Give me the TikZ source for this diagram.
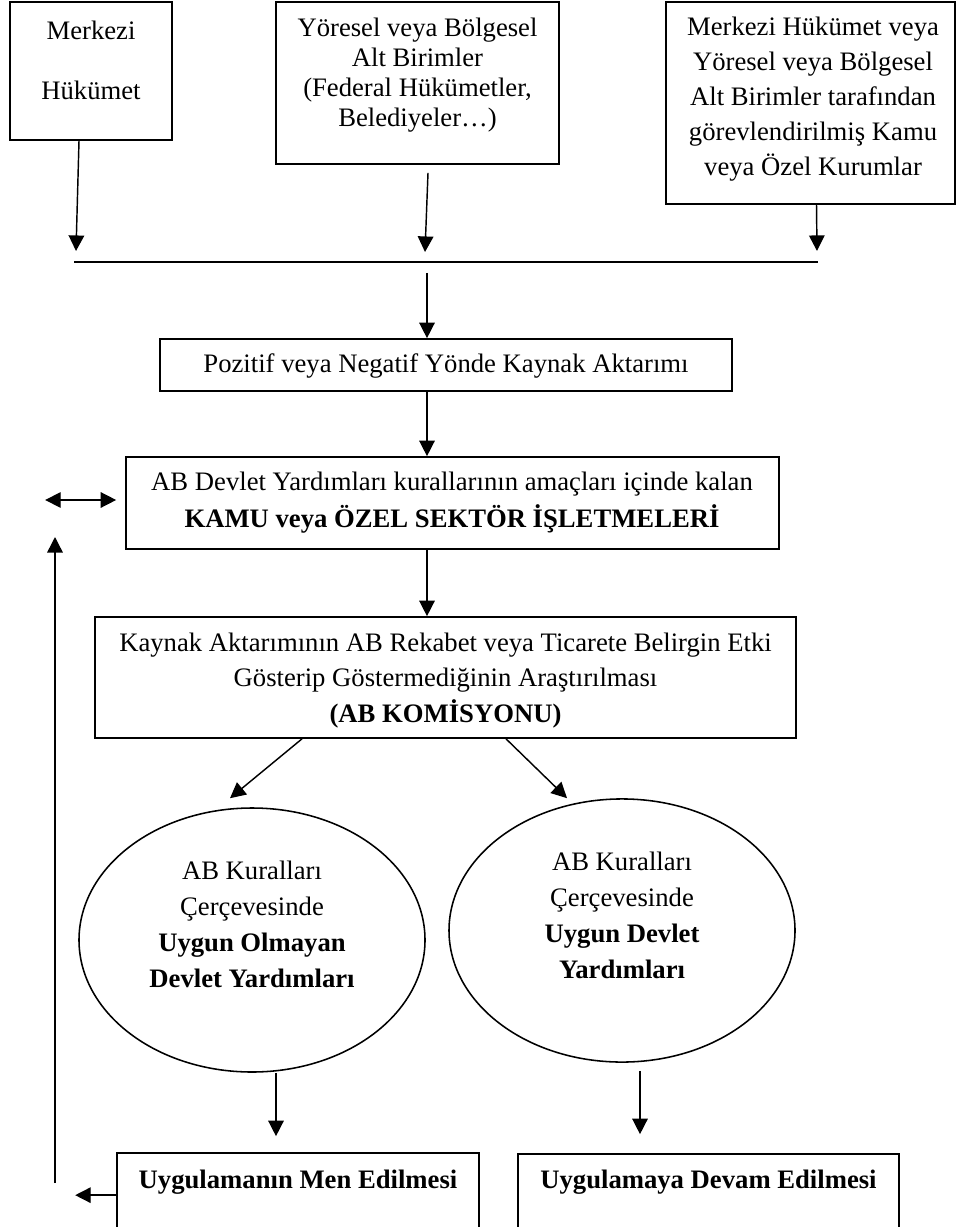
\documentclass[tikz,border=0pt]{standalone}
\usepackage{fontspec}
\setmainfont{Liberation Serif}
\usetikzlibrary{arrows.meta,shapes.geometric,fit,calc}
\begin{document}
\begin{tikzpicture}[x=0.45pt,y=-0.45pt,
  box/.style={draw,line width=0.75pt,inner sep=0pt},
  oval/.style={draw,ellipse,line width=0.7pt,inner sep=0pt},
  txt/.style={align=center,inner sep=0pt,font=\fontsize{12}{#1}\selectfont},
  txt/.default=14.4,
  arr/.style={line width=0.65pt,-{Triangle[length=7pt,width=7pt]}},
  darr/.style={line width=0.65pt,{Triangle[length=7pt,width=7pt]}-{Triangle[length=7pt,width=7pt]}},
  bar/.style={line width=0.75pt}]
\useasboundingbox (0,0) rectangle (956,1227);

% top boxes
\node[box,fit={(10,2) (172,140)}] (b1) {};
\node[txt=27] (t1) at (91,60.5) {Merkezi\\Hükümet};
\node[box,fit={(276,2) (559,164)}] (b2) {};
\node[txt=13.5] (t2) at (417.5,75) {Yöresel veya Bölgesel\\Alt Birimler\\(Federal Hükümetler,\\Belediyeler…)};
\node[box,fit={(666,2) (955,204)}] (b3) {};
\node[txt=15.75] (t3) at (813,99) {Merkezi Hükümet veya\\Yöresel veya Bölgesel\\Alt Birimler tarafından\\görevlendirilmiş Kamu\\veya Özel Kurumlar};

% collecting bar
\coordinate (hlL) at (74,262);
\coordinate (hlR) at (818,262);
\coordinate (hm) at (427,273);
\draw[bar] (hlL) -- (hlR);
\draw[arr] ($(b1.south)+(-12,0)$) -- ($(hlL)+(2,-11)$);
\draw[arr] ($(b2.south)+(10.5,8)$) -- ($(hlL)+(351,-10)$);
\draw[arr] ($(b3.south)+(6,0)$) -- ($(hlR)+(-1,-11)$);

% middle boxes
\node[box,fit={(160,339) (732,391)}] (p) {};
\node[txt] (tp) at (446,366) {Pozitif veya Negatif Yönde Kaynak Aktarımı};
\node[box,fit={(126,457) (779,549)}] (ab) {};
\node[txt=16.65] (tab) at (452,502.5) {AB Devlet Yardımları kurallarının amaçları içinde kalan\\\textbf{KAMU veya ÖZEL SEKTÖR İŞLETMELERİ}};
\node[box,fit={(95,617) (796,738)}] (k) {};
\node[txt=16] (tk) at (445.5,680.5) {Kaynak Aktarımının AB Rekabet veya Ticarete Belirgin Etki\\Gösterip Göstermediğinin Araştırılması\\\textbf{(AB KOMİSYONU)}};

\draw[arr] (hm) -- (hm |- p.north);
\draw[arr] (hm |- p.south) -- (hm |- ab.north);
\draw[arr] (hm |- ab.south) -- (hm |- k.north);

% ellipses
\node[oval,minimum width=155.7pt,minimum height=118.8pt] (e1) at (252,940) {};
\node[txt=16.2] (te1) at (252,924) {AB Kuralları\\Çerçevesinde\\\textbf{Uygun Olmayan}\\\textbf{Devlet Yardımları}};
\node[oval,minimum width=155.7pt,minimum height=118.4pt] (e2) at (622,930.5) {};
\node[txt=16.2] (te2) at (622,915.5) {AB Kuralları\\Çerçevesinde\\\textbf{Uygun Devlet}\\\textbf{Yardımları}};

\draw[arr] ($(k.south)+(-143.5,0)$) -- ($(e1.north)+(-22,-9)$);
\draw[arr] ($(k.south)+(60.5,0)$) -- ($(e2.north)+(-55,0)$);

% bottom boxes
\node[box,fit={(117,1153) (479,1262)}] (men) {};
\node[txt] (tmen) at (298,1182) {\textbf{Uygulamanın Men Edilmesi}};
\node[box,fit={(518,1154) (899,1262)}] (dev) {};
\node[txt] (tdev) at (708.5,1182) {\textbf{Uygulamaya Devam Edilmesi}};

\draw[arr] ($(e1.south)+(24,0)$) -- ($(men.north)+(-22,-16)$);
\draw[arr] ($(e2.south)+(18,8)$) -- ($(dev.north)+(-68.5,-19)$);

% feedback loop
\coordinate (rb) at (55,1183);
\coordinate (rt) at (55,537);
\draw[arr] ($(men.north west)+(0,43)$) -- ($(men.north west)+(-41,43)$);
\draw[arr] (rb) -- (rt);
\draw[darr] ($(ab.west)+(-80,-3)$) -- ($(ab.west)+(-9,-3)$);
\end{tikzpicture}
\end{document}
